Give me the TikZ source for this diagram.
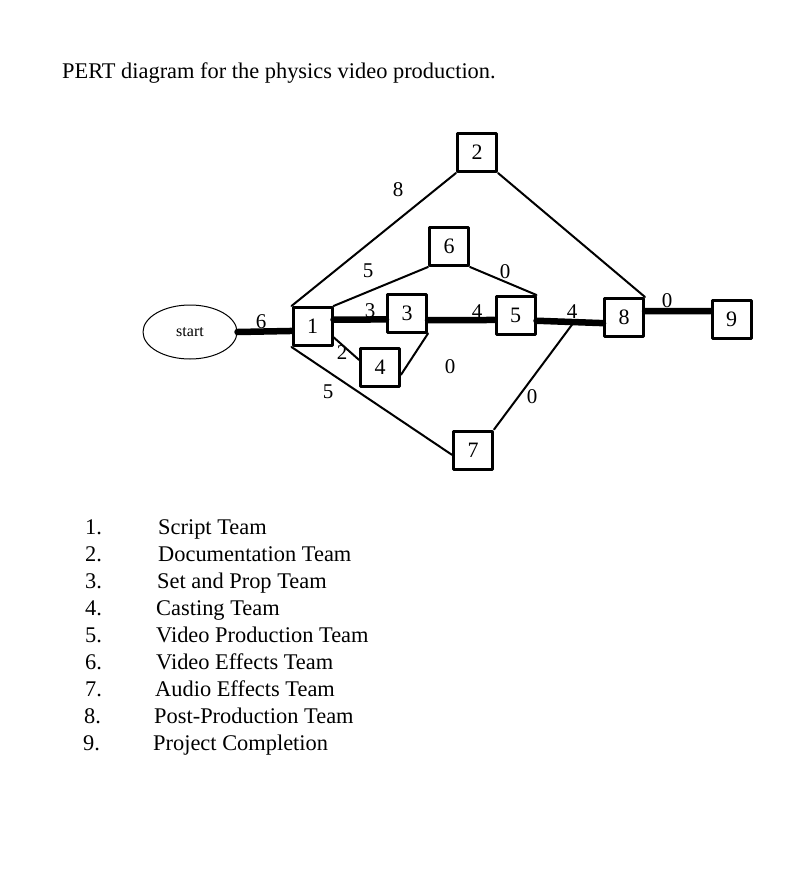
\documentclass[tikz,border=0pt]{standalone}
\usepackage{fontspec}
\setmainfont{Liberation Serif}
\usetikzlibrary{shapes.geometric}

\begin{document}
\begin{tikzpicture}[line cap=round,line join=round,x=1pt,y=-1pt,
        task/.style={draw,line width=3pt,minimum width=39pt,minimum height=38pt,inner sep=0pt,font=\fontsize{22}{22}\selectfont},
        dur/.style={inner sep=0pt,font=\fontsize{21}{21}\selectfont},
        item/.style={anchor=base west,inner sep=0pt,font=\fontsize{22.4}{22.4}\selectfont},
        crit/.style={line width=6.5pt},
        link/.style={line width=2pt}]
        \useasboundingbox (0,0) rectangle (800,894);
        \node[item] (title) at (62,78) {PERT diagram for the physics video production.};
        \node[draw,ellipse,line width=1pt,minimum width=94pt,minimum height=54pt,font=\fontsize{16}{16}\selectfont] (start) at (190,332) {start};
        \node[task] (n1) at (312.5,326.5) {1};
        \node[task] (n2) at (477,152.5) {2};
        \node[task] (n3) at (407,313) {3};
        \node[task] (n4) at (380,367.5) {4};
        \node[task] (n5) at (515.5,315.5) {5};
        \node[task] (n6) at (449,246.5) {6};
        \node[task] (n7) at (473,450) {7};
        \node[task] (n8) at (624,317.5) {8};
        \node[task] (n9) at (731.5,319.5) {9};
        \coordinate (j) at (574,322);
        \draw[crit] (start.east) -- (n1.192);
        \draw[link] (n1.north west) -- (n2.south west);
        \draw[link] (n2.south east) -- (n8.north east);
        \draw[link] (n1.north east) -- (n6.south west);
        \draw[link] (n6.south east) -- (n5.north east);
        \draw[crit] (n1.18) -- (n3.197);
        \draw[crit] (n3.341) -- (n5.192);
        \draw[crit] (n5.346) -- (n8.195);
        \draw[crit] (n8.17) -- (n9.158);
        \draw[link] (n1.333) -- (n4.160);
        \draw[link] (n4.341) -- (n3.south east);
        \draw[link] (n1.south west) -- (n7.193);
        \draw[link] (n7.north east) -- (j);
        % durations
        \node[dur] (w01) at (261,322) {6};
        \node[dur] (w12) at (398,190) {8};
        \node[dur] (w16) at (368,271) {5};
        \node[dur] (w13) at (370,311) {3};
        \node[dur] (w14) at (342,353) {2};
        \node[dur] (w17) at (328,392) {5};
        \node[dur] (w43) at (450,367) {0};
        \node[dur] (w35) at (477,312) {4};
        \node[dur] (w65) at (505,272) {0};
        \node[dur] (w58) at (572,312) {4};
        \node[dur] (w78) at (532,397) {0};
        \node[dur] (w89) at (667,301) {0};
        % key
        \node[item] (k1) at (85,534) {1.};
        \node[item] (k2) at (85,561) {2.};
        \node[item] (k3) at (85,588) {3.};
        \node[item] (k4) at (85,615) {4.};
        \node[item] (k5) at (85,642) {5.};
        \node[item] (k6) at (85,669) {6.};
        \node[item] (k7) at (85,696) {7.};
        \node[item] (k8) at (84,723) {8.};
        \node[item] (k9) at (83,750) {9.};
        \node[item] (t1) at (158,534) {Script Team};
        \node[item] (t2) at (158,561) {Documentation Team};
        \node[item] (t3) at (157,588) {Set and Prop Team};
        \node[item] (t4) at (156,615) {Casting Team};
        \node[item] (t5) at (156,642) {Video Production Team};
        \node[item] (t6) at (156,669) {Video Effects Team};
        \node[item] (t7) at (155,696) {Audio Effects Team};
        \node[item] (t8) at (154,723) {Post-Production Team};
        \node[item] (t9) at (153,750) {Project Completion};
      \end{tikzpicture}
\end{document}
